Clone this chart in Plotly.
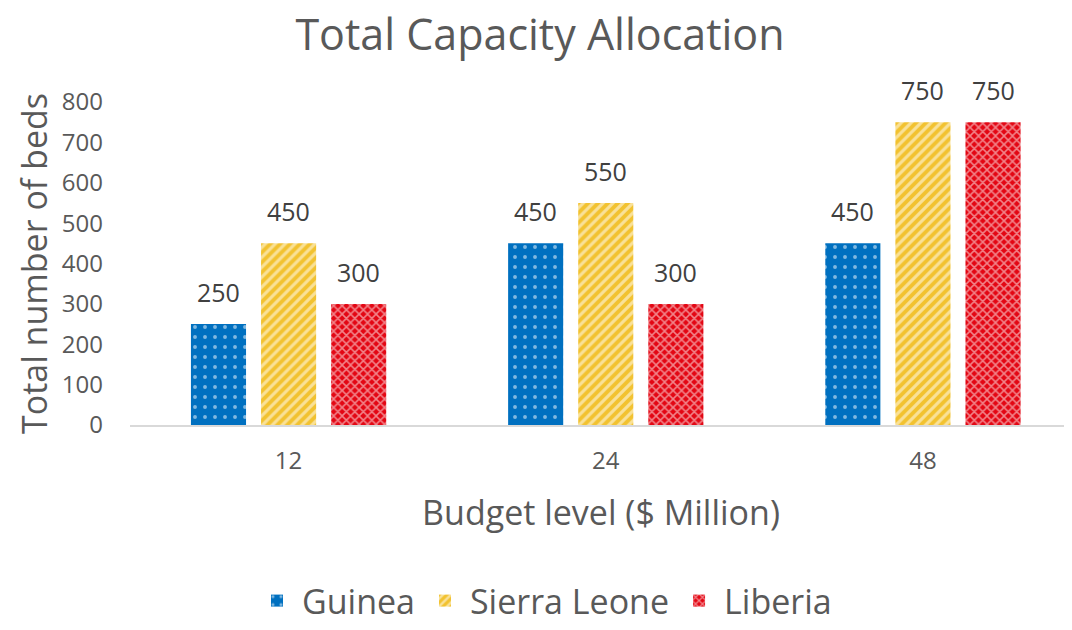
import plotly.graph_objects as go

# Данные
budget_levels = ['12', '24', '48']
guinea = [250, 450, 450]
sierra_leone = [450, 550, 750]
liberia = [300, 300, 750]
y_ticks = [0, 100, 200, 300, 400, 500, 600, 700, 800]

FONT = 'Open Sans'
TEXT_GRAY = '#595959'
BARGAP = 0.337
BARGROUPGAP = 0.214

fig = go.Figure()

series = [
    ('Guinea', guinea, '#0070C0', '.', 10, 0.12),
    ('Sierra Leone', sierra_leone, '#F2C230', '/', 7, 0.45),
    ('Liberia', liberia, '#E30613', 'x', 6, 0.45),
]

slot = (1 - BARGAP) / len(series)
annotations = []
for k, (name, values, color, shape, size, solidity) in enumerate(series):
    fig.add_trace(go.Bar(
        x=budget_levels, y=values, name=name,
        marker=dict(
            color=color,
            line=dict(width=0),
            pattern=dict(shape=shape, fgcolor='white', bgcolor=color,
                         size=size, solidity=solidity, fillmode='overlay')
        )
    ))
    # подписи значений над столбцами
    offset = (k - (len(series) - 1) / 2) * slot
    for i, v in enumerate(values):
        annotations.append(dict(
            x=i + offset, y=v, xref='x', yref='y',
            text=str(v), showarrow=False, yshift=32,
            xanchor='center', yanchor='middle',
            font=dict(size=25, color='#404040', family=FONT)
        ))

# страница добавляет отступ 8px у body, поэтому фигура чуть меньше окна
fig.update_layout(
    width=1064, height=622,
    paper_bgcolor='white', plot_bgcolor='white',
    font=dict(family=FONT, color=TEXT_GRAY),
    title=dict(text='Total Capacity Allocation', x=0.5, y=0.957,
               xanchor='center', yanchor='middle',
               font=dict(size=43, color=TEXT_GRAY, family=FONT)),
    barmode='group', bargap=BARGAP, bargroupgap=BARGROUPGAP,
    margin=dict(l=122, r=0, t=94, b=196),
    annotations=annotations,
    showlegend=True,
    legend=dict(orientation='h', x=0.44, y=-0.545,
                xanchor='center', yanchor='middle',
                font=dict(size=34, color=TEXT_GRAY, family=FONT),
                itemwidth=40, traceorder='normal'),
    xaxis=dict(
        range=[-0.5, 2.47], automargin=False,
        showline=True, linecolor='#D9D9D9', linewidth=2,
        ticks='', ticklabelstandoff=13,
        tickfont=dict(size=24, color=TEXT_GRAY),
        title=dict(text='Budget level ($ Million)', standoff=26,
                   font=dict(size=34, color=TEXT_GRAY)),
        showgrid=False, zeroline=False
    ),
    yaxis=dict(
        range=[0, 800], tickvals=y_ticks, automargin=False,
        showgrid=False, zeroline=False, showline=False,
        ticks='', ticklabelstandoff=26,
        tickfont=dict(size=24, color=TEXT_GRAY),
        title=dict(text='Total number of beds', standoff=3,
                   font=dict(size=34, color=TEXT_GRAY))
    )
)

fig.write_html("out.html")
